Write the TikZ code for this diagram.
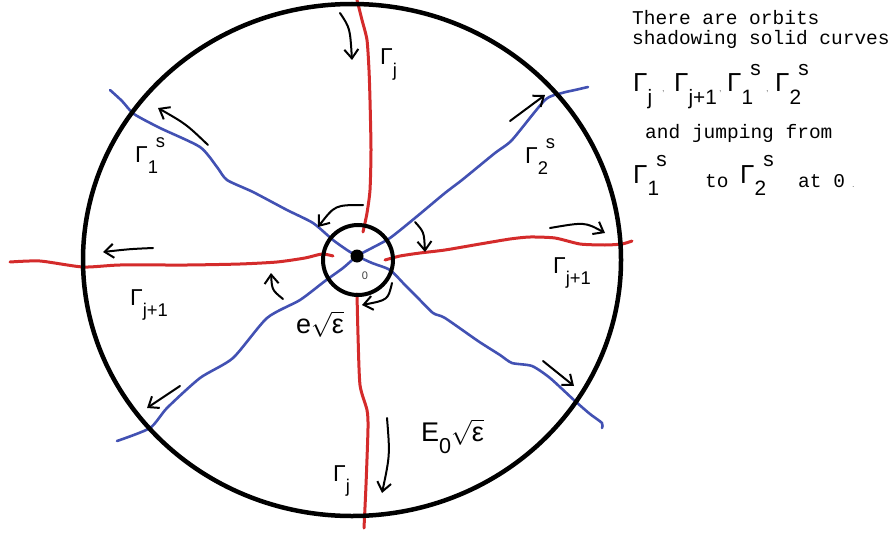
\documentclass[tikz,border=0pt]{standalone}
\usepackage{amsmath}
\usepackage{graphicx}
\usepackage{fontspec}
\setmainfont{Liberation Sans}
\setmonofont{Liberation Mono}
\usetikzlibrary{arrows.meta}
\definecolor{orbRed}{HTML}{D42B2B}
\definecolor{orbBlue}{HTML}{4251B3}
\newcommand{\lsub}[1]{\raisebox{-0.48em}{\scalebox{0.8}{#1}}}
\newcommand{\lsup}[1]{\kern-0.1em\raisebox{0.62em}{\scalebox{0.8}{#1}}}

\begin{document}
\begin{tikzpicture}[x=1pt,y=-1pt,
  rim/.style={line width=4.5pt},
  redorb/.style={orbRed,line width=3pt,line cap=round,line join=round},
  blueorb/.style={orbBlue,line width=2.6pt,line cap=round,line join=round},
  flow/.style={-{Straight Barb[length=9pt,width=14pt]},line width=2pt,line cap=round},
  lab/.style={font=\fontsize{23}{25}\selectfont,inner sep=0pt,anchor=base west},
  rootlab/.style={lab,font=\fontsize{27}{29}\selectfont},
  biglab/.style={font=\fontsize{26}{28}\selectfont,inner sep=0pt,anchor=base west},
  sep/.style={font=\fontsize{9}{10}\selectfont,text=black!55,inner sep=0pt,anchor=base west},
  note/.style={font=\ttfamily\fontsize{19.5}{22}\selectfont,inner sep=0pt,anchor=base west}]
\useasboundingbox (0,0) rectangle (891,535);

% blue orbits
\draw[blueorb] plot[smooth,tension=0.4] coordinates {(110,90) (122,101) (134,114) (160,128) (200,147)
  (217,167) (227,180) (253,192) (287,210) (313,223) (333,240) (347,250) (357,256) (372,263)
  (390,270) (405,285) (417,297) (433,313) (445,318) (478,341) (500,355) (512,363) (532,366)
  (550,378) (575,401) (590,414) (602,423) (602,428)};
\draw[blueorb] plot[smooth,tension=0.4] coordinates {(117,441) (150,428) (167,408) (200,378) (233,358)
  (267,318) (300,300) (325,281) (343,268) (357,256) (370,249) (390,238) (415,218) (445,193)
  (462,180) (495,153) (512,140) (545,100) (562,93) (575,90) (588,87)};

% red orbits
\draw[redorb] plot[smooth,tension=0.4] coordinates {(357,0) (362,20) (367,40) (369,70) (370,100)
  (371,150) (370,190) (367,213) (363,232)};
\draw[redorb] plot[smooth,tension=0.4] coordinates {(357,294) (358,335) (360,385) (367,410) (368,428)
  (366,485) (364,528)};
\draw[redorb] plot[smooth,tension=0.4] coordinates {(10,262) (40,261) (83,267) (120,265) (187,265)
  (240,264) (277,262) (305,258) (322,254) (333,256)};
\draw[redorb] plot[smooth,tension=0.4] coordinates {(385,260) (400,256) (420,253) (445,250) (480,244)
  (510,239) (530,237) (555,238) (580,244) (605,245) (622,244) (632,241)};

% circles
\draw[rim] (352,260) ellipse [x radius=269pt, y radius=256pt];
\draw[line width=4pt] (358,260) circle (35pt);
\fill (357,256) circle (6.5pt);
\node[font=\fontsize{11}{12}\selectfont,text=black!75] (zero) at (365,276) {0};

% flow arrows
\draw[flow] (340,13) .. controls (350,28) .. (352,60);
\draw[flow] (208,145) .. controls (186,124) .. (158,108);
\draw[flow] (153,248) .. controls (130,249) .. (103,252);
\draw[flow] (363,205) .. controls (335,205) .. (318,227);
\draw[flow] (415,222) .. controls (424,232) .. (425,252);
\draw[flow] (392,283) .. controls (388,300) .. (362,305);
\draw[flow] (283,299) .. controls (272,290) .. (271,273);
\draw[flow] (180,386) -- (147,408);
\draw[flow] (387,418) .. controls (390,455) .. (382,493);
\draw[flow] (550,228) .. controls (585,222) .. (605,233);
\draw[flow] (510,121) -- (545,95);
\draw[flow] (543,361) -- (574,386);

% curve labels
\node[lab] (gjtop) at (380,65) {Γ\lsub{j}};
\node[lab] (g1s) at (135,162) {Γ\lsub{1}\lsup{s}};
\node[lab] (g2s) at (525,163) {Γ\lsub{2}\lsup{s}};
\node[lab] (gj1left) at (130,305) {Γ\lsub{j+1}};
\node[lab] (gj1right) at (553,273) {Γ\lsub{j+1}};
\node[lab] (gjbot) at (333,481) {Γ\lsub{j}};
\node[rootlab] (esmall) at (296,333) {e$\sqrt{\text{ε}}$};
\node[rootlab] (ebig) at (421,441) {E\lsub{0}$\sqrt{\text{ε}}$};

% remark
\node[note] (line1) at (632,25) {There are orbits};
\node[note] (line2) at (632,45) {shadowing solid curves};
\node[biglab] (gj) at (633,92) {Γ\lsub{j}};
\node[sep] (c1) at (662,92) {,};
\node[biglab] (gjp) at (674,92) {Γ\lsub{j+1}};
\node[sep] (c2) at (719,92) {,};
\node[biglab] (g1) at (727,92) {Γ\lsub{1}\lsup{s}};
\node[sep] (c3) at (766,92) {,};
\node[biglab] (g2) at (775,92) {Γ\lsub{2}\lsup{s}};
\node[note] (line4) at (645,138) {and jumping from};
\node[biglab] (from) at (633,183) {Γ\lsub{1}\lsup{s}};
\node[note] (to) at (705,187) {to};
\node[biglab] (into) at (740,183) {Γ\lsub{2}\lsup{s}};
\node[note] (at) at (798,187) {at 0};
\node[sep] (dot) at (852,187) {.};
\end{tikzpicture}
\end{document}
